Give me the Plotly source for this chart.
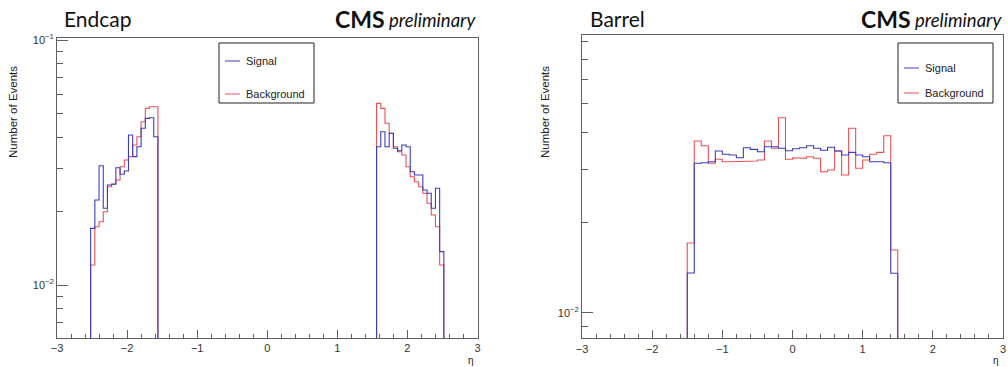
import plotly.graph_objects as go

# ---------------- data ----------------
# Endcap panel: bins of width 0.06 (|eta| from 1.56 to 2.52)
endcap_bin_width = 0.06
endcap_neg_start = -2.52
endcap_pos_start = 1.56
endcap_neg_signal = [0.01703, 0.02223, 0.03068, 0.02056, 0.02560, 0.02577, 0.03011, 0.02830,
                     0.02920, 0.04095, 0.03341, 0.03668, 0.04361, 0.04790, 0.04818, 0.04031]
endcap_neg_background = [0.01207, 0.01730, 0.01813, 0.01991, 0.02519, 0.02583, 0.02683, 0.03040,
                         0.03237, 0.03341, 0.03727, 0.04031, 0.04639, 0.05262, 0.05342, 0.05342]
endcap_pos_signal = [0.03668, 0.04224, 0.03668, 0.04161, 0.03614, 0.03533, 0.03727, 0.03668,
                     0.02901, 0.02812, 0.02812, 0.02442, 0.02368, 0.02056, 0.02482, 0.01368]
endcap_pos_background = [0.05513, 0.05262, 0.04571, 0.04161, 0.03668, 0.03500, 0.03393, 0.03040,
                         0.02767, 0.02639, 0.02519, 0.02368, 0.02155, 0.01931, 0.01730, 0.01207]

# Barrel panel: bins of width 0.1 (eta from -1.5 to 1.5)
barrel_bin_width = 0.1
barrel_start = -1.5
barrel_signal = [0.01356, 0.03148, 0.03162, 0.03187, 0.03459, 0.03373, 0.03355, 0.03286, 0.03548, 0.03504,
                 0.03440, 0.03576, 0.03576, 0.03532, 0.03467, 0.03521, 0.03548, 0.03603, 0.03532, 0.03478,
                 0.03559, 0.03459, 0.03355, 0.03424, 0.03355, 0.03311, 0.03187, 0.03187, 0.03162, 0.01353]
barrel_background = [0.01707, 0.03735, 0.03603, 0.03148, 0.03246, 0.03187, 0.03187, 0.03187, 0.03187, 0.03204,
                     0.03228, 0.03735, 0.03532, 0.04467, 0.03246, 0.03286, 0.03271, 0.03311, 0.03271, 0.02951,
                     0.02990, 0.03459, 0.02877, 0.04119, 0.03030, 0.03228, 0.03373, 0.03424, 0.03890, 0.01618]

x_tick_vals = [-3, -2, -1, 0, 1, 2, 3]
x_tick_text = ["\u22123", "\u22122", "\u22121", "0", "1", "2", "3"]
series_names = ["Signal", "Background"]
panel_titles = ["Endcap", "Barrel"]

SIG_COLOR = "#3c3cc0"
BKG_COLOR = "#ec5058"
FLOOR = 1e-4
W, H = 1008, 367


def step_path(start, width, values):
    xs, ys = [start], [FLOOR]
    for i, v in enumerate(values):
        xs += [start + i * width, start + (i + 1) * width]
        ys += [v, v]
    xs.append(start + len(values) * width)
    ys.append(FLOOR)
    return xs, ys


fig = go.Figure()

def add_hist(start, width, values, color, xa, ya, name):
    xs, ys = step_path(start, width, values)
    fig.add_trace(go.Scatter(x=xs, y=ys, mode="lines", name=name,
                             line=dict(color=color, width=1.1),
                             xaxis=xa, yaxis=ya, showlegend=False, hoverinfo="skip"))

# endcap (left)
add_hist(endcap_neg_start, endcap_bin_width, endcap_neg_background, BKG_COLOR, "x", "y", series_names[1])
add_hist(endcap_pos_start, endcap_bin_width, endcap_pos_background, BKG_COLOR, "x", "y", series_names[1])
add_hist(endcap_neg_start, endcap_bin_width, endcap_neg_signal, SIG_COLOR, "x", "y", series_names[0])
add_hist(endcap_pos_start, endcap_bin_width, endcap_pos_signal, SIG_COLOR, "x", "y", series_names[0])
# barrel (right)
add_hist(barrel_start, barrel_bin_width, barrel_background, BKG_COLOR, "x2", "y2", series_names[1])
add_hist(barrel_start, barrel_bin_width, barrel_signal, SIG_COLOR, "x2", "y2", series_names[0])


def px(x):
    return x / W


def py(y):
    return 1 - y / H


tickfont = dict(family="Liberation Sans, Arial, sans-serif", size=11, color="#333333")
AXCOL = "#606060"

xaxis_common = dict(range=[-3, 3], showgrid=False, zeroline=False, showline=True, mirror=True,
                    linecolor=AXCOL, linewidth=1, ticks="inside", ticklen=8, tickcolor=AXCOL,
                    tickvals=x_tick_vals, ticktext=x_tick_text, tickfont=tickfont, automargin=False,
                    minor=dict(ticks="inside", ticklen=4, tickcolor=AXCOL, tick0=-3, dtick=0.2,
                               showgrid=False))

left_minor = [0.007, 0.008, 0.009, 0.02, 0.03, 0.04, 0.05, 0.06, 0.07, 0.08, 0.09]
right_minor = [0.009, 0.02, 0.03, 0.04, 0.05, 0.06, 0.07, 0.08, 0.09]

yaxis_common = dict(type="log", showgrid=False, zeroline=False, showline=True, mirror=True,
                    linecolor=AXCOL, linewidth=1, ticks="inside", ticklen=11, tickcolor=AXCOL,
                    tickfont=tickfont, automargin=False)

fig.update_layout(
    width=W, height=H, margin=dict(l=0, r=0, t=0, b=0, pad=0, autoexpand=False),
    paper_bgcolor="white", plot_bgcolor="white", showlegend=False,
    xaxis=dict(domain=[px(57), px(477.5)], anchor="y", **xaxis_common),
    xaxis2=dict(domain=[px(582), px(1003)], anchor="y2", **xaxis_common),
    yaxis=dict(domain=[py(338), py(38)], anchor="x", range=[-2.2163, -0.9918],
               tickvals=[0.01, 0.1], ticktext=["10<sup>\u22122</sup>", "10<sup>\u22121</sup>"],
               minor=dict(ticks="inside", ticklen=6, tickcolor=AXCOL, tickvals=left_minor, showgrid=False),
               **yaxis_common),
    yaxis2=dict(domain=[py(338.3), py(35)], anchor="x2", range=[-2.0853, -1.0743],
                tickvals=[0.01], ticktext=["10<sup>\u22122</sup>"],
                minor=dict(ticks="inside", ticklen=6, tickcolor=AXCOL, tickvals=right_minor, showgrid=False),
                **yaxis_common),
)

annotations = []
shapes = []
title_font = dict(family="Lato, Open Sans, sans-serif", size=21, color="#111111")
cms_font = dict(family="Lato, Open Sans, sans-serif", size=23, color="#111111")
prelim_font = dict(family="Lato, Open Sans, sans-serif", size=18.5, color="#111111")
small_font = dict(family="Liberation Sans, Arial, sans-serif", size=11, color="#222222")
eta_font = dict(family="Liberation Sans, Arial, sans-serif", size=10, color="#222222")
ylab_font = dict(family="Liberation Sans, Arial, sans-serif", size=11.5, color="#222222")

panels = [
    dict(title_x=62, cms_x=387, prelim_x=478, ylab_x=13, eta_x=471, leg=(219, 314, 43, 103), leg_y=(61, 94)),
    dict(title_x=588, cms_x=913, prelim_x=1004, ylab_x=545, eta_x=996, leg=(898, 993, 43, 103), leg_y=(68, 93)),
]

for i, p in enumerate(panels):
    annotations.append(dict(x=px(p["title_x"]), y=py(18), xref="paper", yref="paper", text=panel_titles[i],
                            showarrow=False, xanchor="left", yanchor="middle", font=title_font))
    annotations.append(dict(x=px(p["cms_x"]), y=py(19), xref="paper", yref="paper", text="<b>CMS</b>",
                            showarrow=False, xanchor="right", yanchor="middle", font=cms_font))
    annotations.append(dict(x=px(p["prelim_x"]), y=py(20), xref="paper", yref="paper", text="<i>preliminary</i>",
                            showarrow=False, xanchor="right", yanchor="middle", font=prelim_font))
    annotations.append(dict(x=px(p["ylab_x"]), y=py(112), xref="paper", yref="paper", text="Number of Events",
                            textangle=-90, showarrow=False, xanchor="center", yanchor="middle", font=ylab_font))
    annotations.append(dict(x=px(p["eta_x"]), y=py(360), xref="paper", yref="paper", text="\u03b7",
                            showarrow=False, xanchor="center", yanchor="middle", font=eta_font))
    x0, x1, y0, y1 = p["leg"]
    shapes.append(dict(type="rect", xref="paper", yref="paper", x0=px(x0), x1=px(x1), y0=py(y1), y1=py(y0),
                       line=dict(color="#222222", width=1), fillcolor="white", layer="above"))
    for name, color, yy in zip(series_names, [SIG_COLOR, BKG_COLOR], p["leg_y"]):
        shapes.append(dict(type="line", xref="paper", yref="paper", x0=px(x0 + 6), x1=px(x0 + 21),
                           y0=py(yy), y1=py(yy), line=dict(color=color, width=1), layer="above"))
        annotations.append(dict(x=px(x0 + 25), y=py(yy), xref="paper", yref="paper", text=name,
                                showarrow=False, xanchor="left", yanchor="middle", font=small_font))

fig.update_layout(annotations=annotations, shapes=shapes)
fig.write_html("out.html")
